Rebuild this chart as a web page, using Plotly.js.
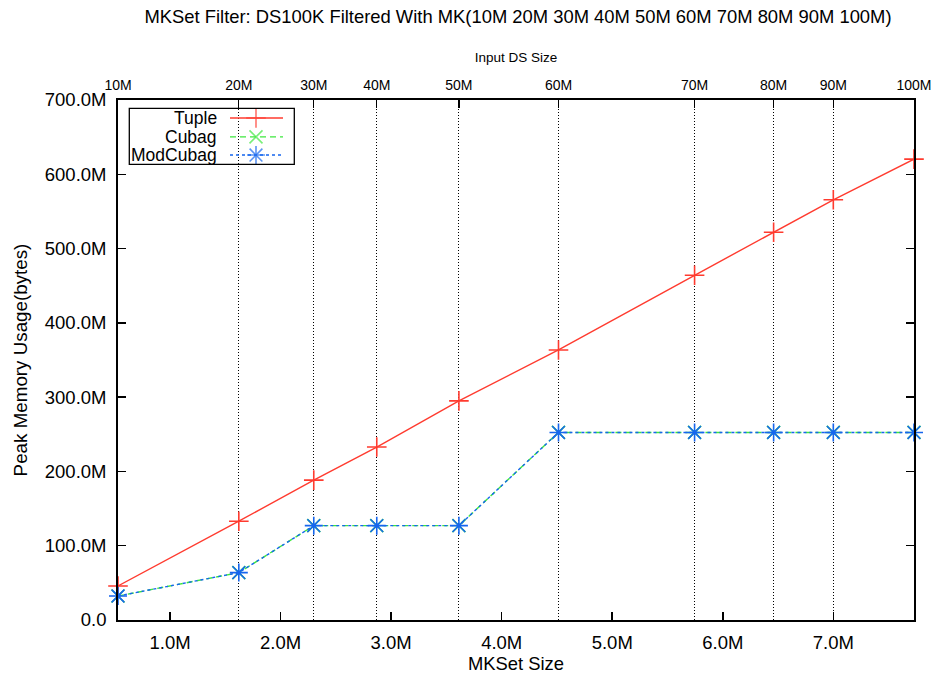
<!DOCTYPE html>
<html>
<head>
<meta charset="utf-8">
<script src="https://cdn.plot.ly/plotly-3.0.1.min.js"></script>
<style>html,body{margin:0;padding:0;background:#fff;}#chart{width:934px;height:679px;}</style>
</head>
<body>
<div id="chart"></div>
<script>
// ---- data ----
const mksetSize = [0.529, 1.622, 2.300, 2.870, 3.613, 4.514, 5.745, 6.460, 7.000, 7.730]; // millions
const dsLabels = ['10M','20M','30M','40M','50M','60M','70M','80M','90M','100M'];
const tupleMem = [45.8, 133.0, 188.3, 232.8, 295.0, 363.5, 464.0, 522.0, 565.7, 620.4]; // millions of bytes
const cubagMem = [32.3, 63.8, 127.0, 127.0, 127.0, 252.5, 252.5, 252.5, 252.5, 252.5];
const modCubagMem = [32.3, 63.8, 127.0, 127.0, 127.0, 252.5, 252.5, 252.5, 252.5, 252.5];
const xTickVals = [1, 2, 3, 4, 5, 6, 7];
const xTickText = ['1.0M','2.0M','3.0M','4.0M','5.0M','6.0M','7.0M'];
const yTickVals = [0, 100, 200, 300, 400, 500, 600, 700];
const yTickText = ['0.0','100.0M','200.0M','300.0M','400.0M','500.0M','600.0M','700.0M'];
const seriesNames = ['Tuple', 'Cubag', 'ModCubag'];

// ---- styles ----
const FONT = 'Liberation Sans, Arial, sans-serif';
const styles = [
  {color: '#ff3b2f', dash: 'solid', symbol: 'cross-thin-open', size: 14},
  {color: '#3ee83e', dash: '6px,4px', symbol: 'x-thin-open', size: 13},
  {color: '#1666ee', dash: '3px,3px', symbol: 'asterisk-open', size: 15}
];
const seriesData = [tupleMem, cubagMem, modCubagMem];
const xRange = [mksetSize[0], mksetSize[mksetSize.length - 1]];

const traces = seriesData.map((ys, i) => ({
  type: 'scatter', mode: 'lines+markers', x: mksetSize, y: ys, name: seriesNames[i],
  xaxis: 'x', yaxis: 'y', showlegend: false, cliponaxis: false,
  line: {color: styles[i].color, width: 1.4, dash: styles[i].dash},
  marker: {symbol: styles[i].symbol, size: styles[i].size, color: styles[i].color,
           line: {color: styles[i].color, width: 1.6}}
}));

// dummy trace to activate the top axis
traces.push({type: 'scatter', mode: 'none', x: xRange, y: [0, 0], xaxis: 'x2', yaxis: 'y',
  showlegend: false, hoverinfo: 'skip'});

// ---- custom gnuplot-style legend (overlay axes in pixel units of plot area) ----
const PW = 796, PH = 519.3;
const legBox = {x0: 11.3, x1: 176.3, y0: 8.3, y1: 64.3};
const rowY = [18.0, 36.8, 55.0];
const sampleX = [112, 138, 165];
const textRight = 100.5;
const annotations = [];
const shapes = [{type: 'rect', xref: 'x3', yref: 'y3', x0: legBox.x0, x1: legBox.x1, y0: legBox.y0, y1: legBox.y1,
  line: {color: '#000', width: 1.3}, fillcolor: 'rgba(0,0,0,0)'}];
seriesNames.forEach((nm, i) => {
  traces.push({type: 'scatter', mode: 'lines+markers', xaxis: 'x3', yaxis: 'y3', showlegend: false, hoverinfo: 'skip',
    x: sampleX, y: [rowY[i], rowY[i], rowY[i]], cliponaxis: false,
    line: {color: styles[i].color, width: 1.4, dash: styles[i].dash},
    marker: {symbol: styles[i].symbol, size: [0, styles[i].size, 0], color: styles[i].color,
             line: {color: styles[i].color, width: 1.6}}});
  annotations.push({xref: 'x3', yref: 'y3', x: textRight, y: rowY[i], text: nm, showarrow: false,
    xanchor: 'right', yanchor: 'middle', font: {family: FONT, size: 17.5, color: '#000'}});
});

const layout = {
  width: 934, height: 679,
  margin: {l: 118, r: 20, t: 100, b: 59, pad: 0},
  paper_bgcolor: '#fff', plot_bgcolor: '#fff',
  font: {family: FONT, color: '#000'},
  showlegend: false,
  title: {text: 'MKSet Filter: DS100K Filtered With MK(10M 20M 30M 40M 50M 60M 70M 80M 90M 100M)',
    font: {family: FONT, size: 18.4, color: '#000'}, x: 0.5546, xanchor: 'center', y: 0.975, yanchor: 'middle'},
  xaxis: {
    range: xRange, tickvals: xTickVals, ticktext: xTickText,
    ticks: 'inside', ticklen: 8, tickwidth: 1.5, tickcolor: '#000',
    showline: true, linecolor: '#000', linewidth: 1.8, mirror: true,
    showgrid: false, zeroline: false,
    tickfont: {family: FONT, size: 18.5}, ticklabelstandoff: 5,
    title: {text: 'MKSet Size', font: {family: FONT, size: 18.4}, standoff: 5}
  },
  xaxis2: {
    overlaying: 'x', side: 'top', matches: 'x', range: xRange,
    tickvals: mksetSize, ticktext: dsLabels,
    ticks: 'inside', ticklen: 8, tickwidth: 1.2, tickcolor: '#000',
    showline: false, showgrid: true, gridcolor: '#000', gridwidth: 1, griddash: '1px,2px',
    zeroline: false,
    tickfont: {family: FONT, size: 14}, ticklabelstandoff: 6,
    title: {text: 'Input DS Size', font: {family: FONT, size: 13.5}, standoff: 11}
  },
  yaxis: {
    range: [0, 700], tickvals: yTickVals, ticktext: yTickText,
    ticks: 'inside', ticklen: 8, tickwidth: 1.5, tickcolor: '#000',
    showline: true, linecolor: '#000', linewidth: 1.8, mirror: 'ticks',
    showgrid: false, zeroline: false,
    tickfont: {family: FONT, size: 18.5}, ticklabelstandoff: 6,
    title: {text: 'Peak Memory Usage(bytes)', font: {family: FONT, size: 18.8}, standoff: 12}
  },
  xaxis3: {overlaying: 'x', range: [0, PW], visible: false, fixedrange: true},
  yaxis3: {overlaying: 'y', range: [PH, 0], visible: false, fixedrange: true},
  shapes: shapes,
  annotations: annotations
};

Plotly.newPlot('chart', traces, layout, {staticPlot: true, displayModeBar: false});
</script>
</body>
</html>
